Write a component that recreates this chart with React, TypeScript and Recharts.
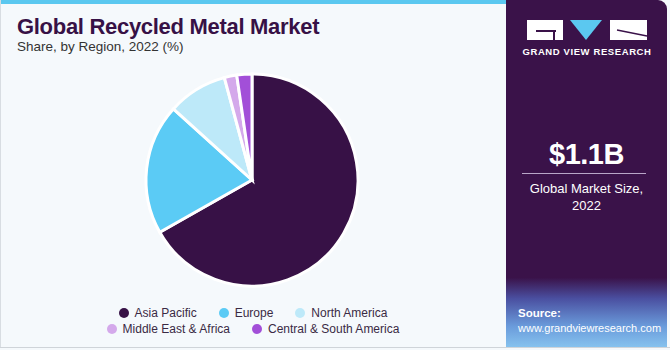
import React from "react";
import { PieChart, Pie, Cell } from "recharts";

const regions = ["Asia Pacific", "Europe", "North America", "Middle East & Africa", "Central & South America"];
const shares = [66.8, 19.9, 9.1, 1.9, 2.3];
const colors = ["#371146", "#5BCBF5", "#BDE9F9", "#D4A9EB", "#A24FD8"];

const data = regions.map((name, i) => ({ name, value: shares[i] }));

const legendRows = [[0, 1, 2], [3, 4]];

export default function App() {
  return (
    <div style={{ position: "absolute", left: 0, top: 0, width: 670, height: 350, background: "#F5F9FC", overflow: "hidden", fontFamily: "Liberation Sans, Arial, sans-serif" }}>
      <div style={{ position: "absolute", left: 0, top: 0, width: 506, height: 4, background: "#5BC8F0" }} />
      <div style={{ position: "absolute", left: 0, top: 0, width: 1, height: 348, background: "#d8dde2" }} />
      <div style={{ position: "absolute", left: 0, top: 347, width: 670, height: 1, background: "#cfd4d9" }} />
      <div style={{ position: "absolute", left: 17, top: 14, fontSize: 22, fontWeight: 700, color: "#371146", letterSpacing: -0.3 }}>
        Global Recycled Metal Market
      </div>
      <div style={{ position: "absolute", left: 17, top: 39, fontSize: 13.5, color: "#333" }}>
        Share, by Region, 2022 (%)
      </div>
      <div style={{ position: "absolute", left: 0, top: 0 }}>
        <PieChart width={504} height={360} margin={{ top: 0, right: 0, bottom: 0, left: 0 }}>
          <Pie
            data={data}
            dataKey="value"
            nameKey="name"
            cx={252}
            cy={180}
            outerRadius={106}
            innerRadius={0}
            startAngle={90}
            endAngle={-270}
            stroke="#ffffff"
            strokeWidth={3}
            isAnimationActive={false}
          >
            {data.map((d, i) => (
              <Cell key={d.name} fill={colors[i]} />
            ))}
          </Pie>
        </PieChart>
      </div>
      <div style={{ position: "absolute", left: 0, top: 305, width: 506, fontSize: 12, color: "#3a2a44" }}>
        {legendRows.map((row, ri) => (
          <div key={ri} style={{ display: "flex", justifyContent: "center", height: 16, alignItems: "center", paddingLeft: ri === 1 ? 0 : 0 }}>
            {row.map((idx) => (
              <div key={idx} style={{ display: "flex", alignItems: "center", margin: "0 11px" }}>
                <span style={{ display: "inline-block", width: 10, height: 10, borderRadius: 5, background: colors[idx], marginRight: 6 }} />
                <span>{regions[idx]}</span>
              </div>
            ))}
          </div>
        ))}
      </div>
      {/* right panel */}
      <div style={{ position: "absolute", left: 506, top: 0, width: 161, height: 347, background: "linear-gradient(to bottom, #3A1249 0%, #3A1249 80%, #4A4FA0 86%, #6A9BDB 94%, #86C2EE 100%)", borderTopRightRadius: 9 }}>
        <svg width={161} height={70} style={{ position: "absolute", left: 0, top: 0 }}>
          <rect x={21} y={20} width={36} height={20} fill="#ffffff" />
          <rect x={30} y={30} width={20} height={2} fill="#3A1249" />
          <rect x={47} y={30} width={2} height={10} fill="#3A1249" />
          <polygon points="64,20 96,20 80,40" fill="#5BC8F0" />
          <rect x={104} y={20} width={37} height={20} fill="#ffffff" />
          <line x1={111} y1={30} x2={141} y2={36} stroke="#3A1249" strokeWidth={1.5} />
          <text x={81} y={55} textAnchor="middle" fill="#ffffff" fontSize={9.5} fontWeight={700} letterSpacing={0.6}>GRAND VIEW RESEARCH</text>
        </svg>
        <div style={{ position: "absolute", left: 0, width: 161, top: 138, textAlign: "center", color: "#fff", fontSize: 29, fontWeight: 700, letterSpacing: -0.5 }}>$1.1B</div>
        <div style={{ position: "absolute", left: 16, width: 124, top: 173, height: 1, background: "#B9A6C8" }} />
        <div style={{ position: "absolute", left: 0, width: 161, top: 180, textAlign: "center", color: "#fff", fontSize: 13, lineHeight: "17px" }}>
          Global Market Size,<br />2022
        </div>
        <div style={{ position: "absolute", left: 12, top: 307, color: "#fff", fontSize: 11.5, fontWeight: 700 }}>Source:</div>
        <div style={{ position: "absolute", left: 12, top: 322, color: "#fff", fontSize: 11, whiteSpace: "nowrap" }}>www.grandviewresearch.com</div>
      </div>
    </div>
  );
}
